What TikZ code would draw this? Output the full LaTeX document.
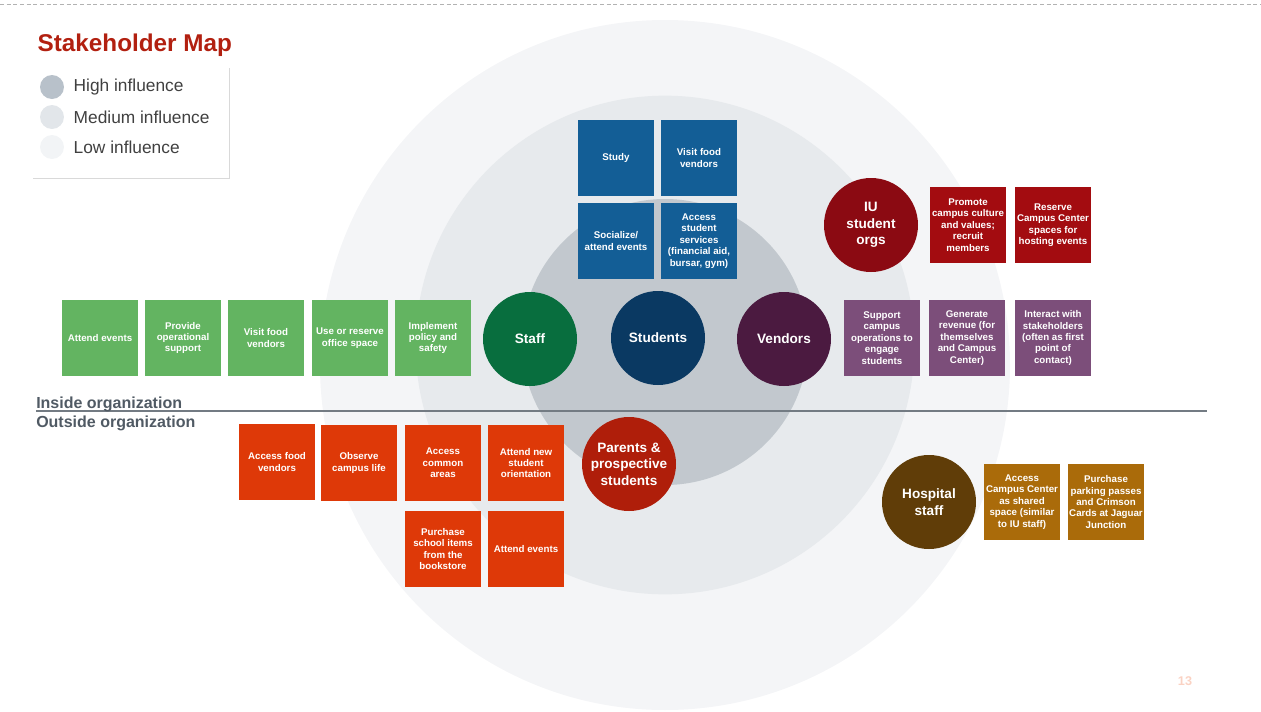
\documentclass[tikz,border=0pt]{standalone}
\usepackage{fontspec}
\setmainfont{Liberation Sans}
\definecolor{ringlow}{RGB}{244,245,247}
\definecolor{ringmid}{RGB}{231,234,237}
\definecolor{ringhigh}{RGB}{194,200,206}
\definecolor{keyhigh}{RGB}{184,193,202}
\definecolor{keymid}{RGB}{226,230,234}
\definecolor{keylow}{RGB}{242,244,246}
\definecolor{titlered}{RGB}{178,32,16}
\definecolor{labelgray}{RGB}{80,90,100}
\definecolor{keytext}{RGB}{64,64,64}
\definecolor{studentblue}{RGB}{19,94,150}
\definecolor{studentnavy}{RGB}{10,57,98}
\definecolor{staffleaf}{RGB}{99,180,97}
\definecolor{staffgreen}{RGB}{8,110,62}
\definecolor{vendorleaf}{RGB}{124,78,122}
\definecolor{vendorplum}{RGB}{75,26,64}
\definecolor{orgleaf}{RGB}{163,12,16}
\definecolor{orgred}{RGB}{139,10,18}
\definecolor{visitorleaf}{RGB}{222,57,8}
\definecolor{parentred}{RGB}{175,30,10}
\definecolor{hospitalleaf}{RGB}{170,107,10}
\definecolor{hospitalbrown}{RGB}{96,61,8}
\definecolor{pagenum}{RGB}{250,210,195}

\begin{document}
\begin{tikzpicture}[x=0.75pt, y=-0.75pt,
    needbox/.style={minimum width=57pt, minimum height=57pt, inner sep=0pt, align=center,
        text=white, font=\bfseries\fontsize{7.3}{8.6}\selectfont},
    actor/.style={circle, minimum size=70.5pt, inner sep=0pt, align=center,
        text=white, font=\bfseries\fontsize{10.2}{12.3}\selectfont},
    keydot/.style={circle, minimum size=18pt, inner sep=0pt},
    keylabel/.style={anchor=west, text=keytext, font=\fontsize{13}{15}\selectfont},
    zonelabel/.style={anchor=base west, text=labelgray, font=\bfseries\fontsize{12}{14}\selectfont}]

    \useasboundingbox (0,0) rectangle (1261,711);
    \clip (0,0) rectangle (1261,711);

    % 1. Influence rings
    \fill[ringlow]  (665,365) circle (258.75pt);
    \fill[ringmid]  (665,345) circle (187pt);
    \fill[ringhigh] (665,342) circle (107.25pt);

    % 2. Header, legend and dividers
    \draw[color=gray!60, line width=0.75pt, dash pattern=on 3pt off 2pt] (0,4) -- (1261,4);
    \node[anchor=west, text=titlered, font=\bfseries\fontsize{18.2}{20}\selectfont] (title) at (33,45) {Stakeholder Map};

    \draw[color=gray!30, line width=0.6pt] (229,68) -- (229,178) -- (33,178);
    \node[keydot, fill=keyhigh] (dothigh) at (52,87) {};
    \node[keydot, fill=keymid]  (dotmid)  at (52,117) {};
    \node[keydot, fill=keylow]  (dotlow)  at (52,147) {};
    \node[keylabel] (keyhigh) at (69,87)  {High influence};
    \node[keylabel] (keymid)  at (69,117) {Medium influence};
    \node[keylabel] (keylow)  at (69,147) {Low influence};

    \draw[color=labelgray!80, line width=0.9pt] (36,411) -- (1207,411);
    \node[zonelabel, inner sep=0pt] (inside)  at (36,408) {Inside organization};
    \node[zonelabel, inner sep=0pt] (outside) at (36,427) {Outside organization};

    % 3. Stakeholders
    \node[actor, fill=staffgreen]    (staff)    at (530,339) {Staff};
    \node[actor, fill=studentnavy]   (students) at (658,338) {Students};
    \node[actor, fill=vendorplum]    (vendors)  at (784,339) {Vendors};
    \node[actor, fill=orgred]        (orgs)     at (871,225) {IU\\student\\orgs};
    \node[actor, fill=parentred]     (parents)  at (629,464) {Parents \&\\prospective\\students};
    \node[actor, fill=hospitalbrown] (hospital) at (929,502) {Hospital\\staff};

    % 4. What each group does
    \node[needbox, fill=studentblue] (study)   at (616,158) {Study};
    \node[needbox, fill=studentblue] (svisit)  at (699,158) {Visit food\\vendors};
    \node[needbox, fill=studentblue] (social)  at (616,241) {Socialize/\\attend events};
    \node[needbox, fill=studentblue] (service) at (699,241) {Access\\student\\services\\(financial aid,\\bursar, gym)};

    \foreach \x/\t [count=\i] in {100/{Attend events}, 183/{Provide\\operational\\support},
        266/{Visit food\\vendors}, 350/{Use or reserve\\office space}, 433/{Implement\\policy and\\safety}}
        \node[needbox, fill=staffleaf] (staffneed\i) at (\x,338) {\t};

    \foreach \x/\t [count=\i] in {882/{Support\\campus\\operations to\\engage\\students},
        967/{Generate\\revenue (for\\themselves\\and Campus\\Center)},
        1053/{Interact with\\stakeholders\\(often as first\\point of\\contact)}}
        \node[needbox, fill=vendorleaf] (vendorneed\i) at (\x,338) {\t};

    \node[needbox, fill=orgleaf] (promote) at (968,225) {Promote\\campus culture\\and values;\\recruit\\members};
    \node[needbox, fill=orgleaf] (reserve) at (1053,225) {Reserve\\Campus Center\\spaces for\\hosting events};

    \node[needbox, fill=visitorleaf] (food)       at (277,462) {Access food\\vendors};
    \node[needbox, fill=visitorleaf] (observe)    at (359,463) {Observe\\campus life};
    \node[needbox, fill=visitorleaf] (common)     at (443,463) {Access\\common\\areas};
    \node[needbox, fill=visitorleaf] (orient)     at (526,463) {Attend new\\student\\orientation};
    \node[needbox, fill=visitorleaf] (bookstore)  at (443,549) {Purchase\\school items\\from the\\bookstore};
    \node[needbox, fill=visitorleaf] (vattend)    at (526,549) {Attend events};

    \node[needbox, fill=hospitalleaf] (shared)  at (1022,502) {Access\\Campus Center\\as shared\\space (similar\\to IU staff)};
    \node[needbox, fill=hospitalleaf] (parking) at (1106,502) {Purchase\\parking passes\\and Crimson\\Cards at Jaguar\\Junction};

    \node[text=pagenum, font=\bfseries\fontsize{9.5}{11}\selectfont] (page) at (1185,681) {13};

\end{tikzpicture}
\end{document}
